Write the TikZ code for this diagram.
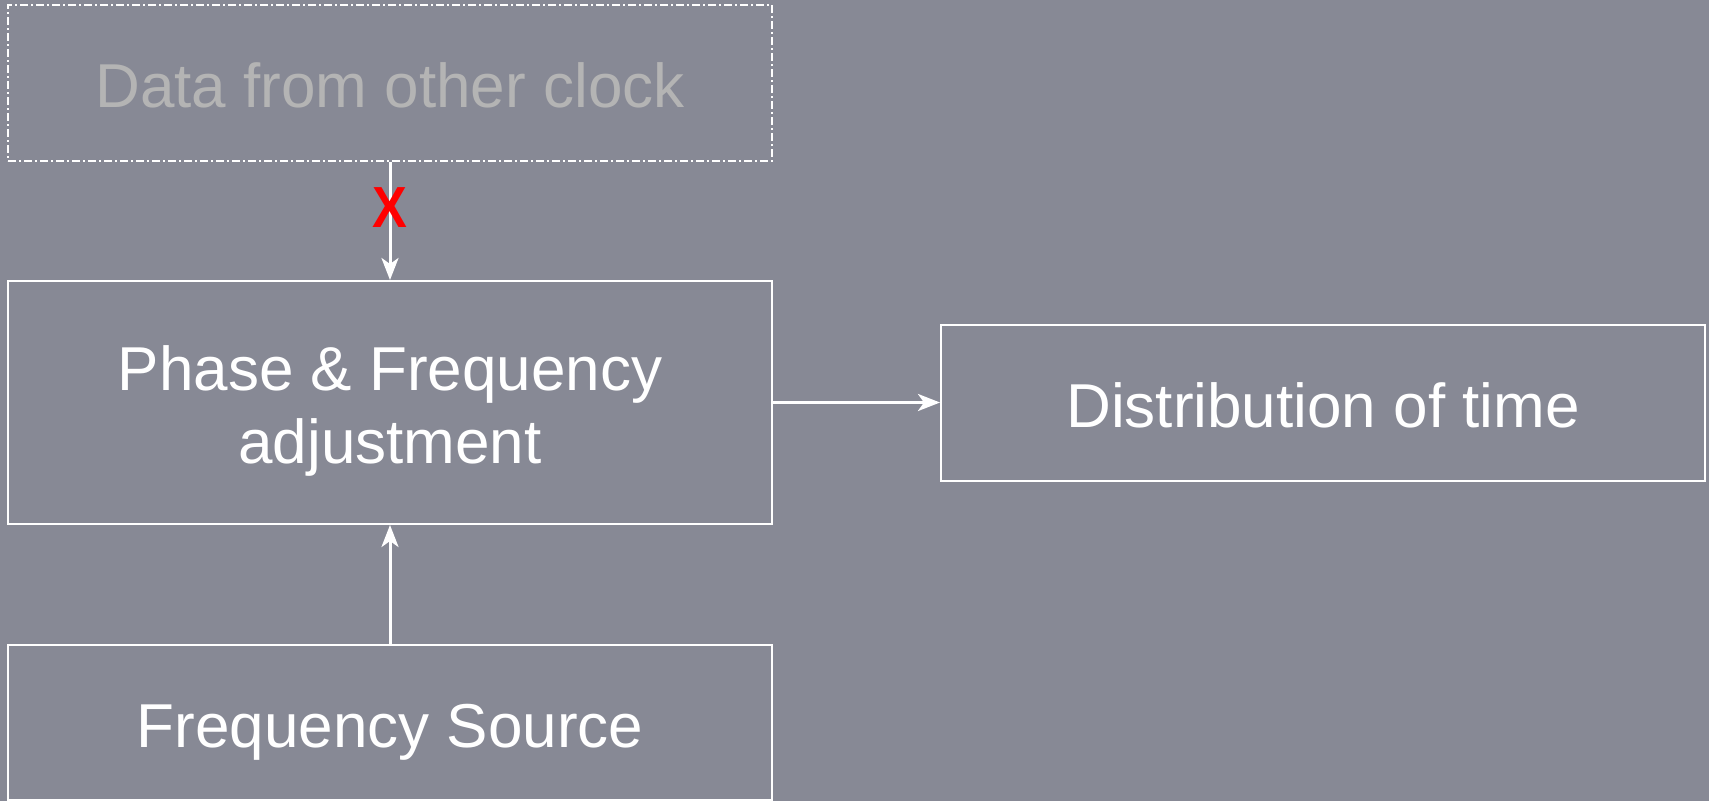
\documentclass[tikz,border=0pt]{standalone}
\usepackage{fontspec}
\setmainfont{Liberation Sans}
\usetikzlibrary{arrows.meta}
\definecolor{bg}{HTML}{878995}
\definecolor{fadedtext}{HTML}{B4B4B4}
\newcommand\boxtext[1]{\raisebox{-10pt}[\height][\depth]{\begin{tabular}{@{}c@{}}#1\end{tabular}}}
\begin{document}
\begin{tikzpicture}[x=1pt,y=-1pt,
  box/.style={draw=white,line width=2pt,minimum width=764pt,inner sep=0pt,
    text=white,font=\fontsize{62}{73}\selectfont},
  ghostbox/.style={box,line width=1.5pt,dash pattern=on 8pt off 3pt on 2pt off 3pt,text=fadedtext},
  link/.style={draw=white,line width=3pt,-{Stealth[length=22pt,width=17pt,inset=6pt]}},
  cross/.style={text=red,font=\fontsize{58}{58}\selectfont\bfseries,inner sep=0pt,xscale=0.9}]
\fill[bg] (0,0) rectangle (1709,801);
\useasboundingbox (0,0) rectangle (1709,801);
\node[ghostbox,minimum height=156pt] (data) at (390,83) {\boxtext{Data from other clock}};
\node[box,minimum height=243pt] (phase) at (390,402.5) {\boxtext{Phase \& Frequency\\adjustment}};
\node[box,minimum height=156pt] (dist) at (1323,402.5) {\boxtext{Distribution of time}};
\node[box,minimum height=155pt] (freq) at (390,722.5) {\boxtext{Frequency Source}};
\draw[link] (data.south) -- (phase.north);
\draw[link] (freq.north) -- (phase.south);
\draw[link] (phase.east) -- (dist.west);
\node[cross] (x) at (390,208) {X};
\end{tikzpicture}
\end{document}
